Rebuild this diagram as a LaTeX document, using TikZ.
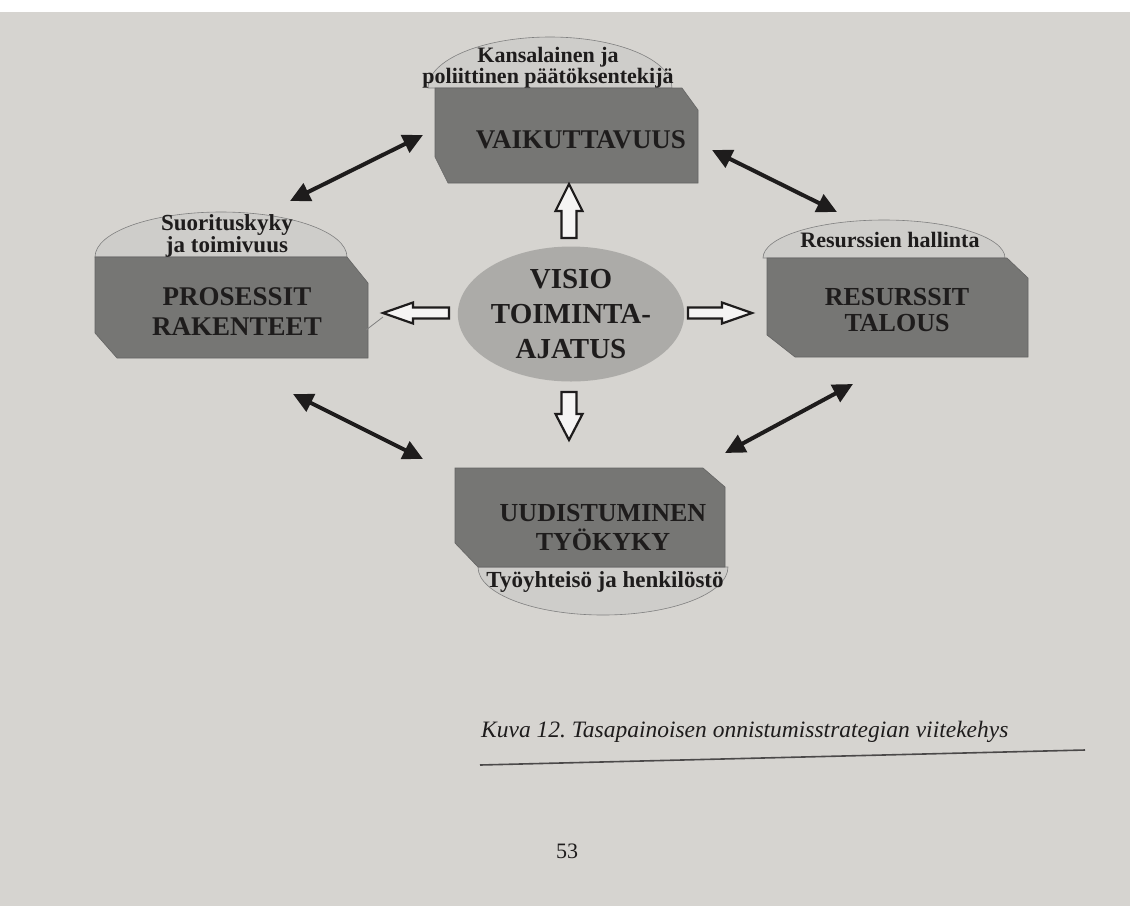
\documentclass[tikz,border=0pt]{standalone}
\usepackage{fontspec}
\setmainfont{Liberation Serif}
\usetikzlibrary{arrows.meta,shapes.geometric}
\definecolor{page}{RGB}{214,212,208}
\definecolor{boxgray}{RGB}{118,118,116}
\definecolor{capgray}{RGB}{206,205,202}
\definecolor{ovalgray}{RGB}{172,171,168}
\definecolor{ink}{RGB}{30,28,28}

\begin{document}
\begin{tikzpicture}[x=1pt,y=-1pt,>={Triangle[length=20pt,width=19pt]},
 box/.style={fill=boxgray,draw=boxgray!85!black,line width=0.6pt},
 lid/.style={fill=capgray,draw=gray,line width=0.6pt},
 lbl/.style={font=\fontsize{26}{29}\selectfont\bfseries,text=ink,align=center,inner sep=0pt},
 sub/.style={font=\fontsize{22}{21}\selectfont\bfseries,text=ink,align=center,inner sep=0pt},
 blk/.style={draw=ink,line width=2.2pt,fill=white!75!page,line join=miter},
 dbl/.style={<->,draw=ink,line width=4pt}]
\useasboundingbox (0,0) rectangle (1130,906);
\fill[page] (0,0) rectangle (1130,906);
\fill[white] (0,0) rectangle (1130,12);

% top: VAIKUTTAVUUS
\path[lid] (428,88) arc[start angle=180,end angle=0,x radius=122pt,y radius=51pt] -- cycle;
\path[box] (435,88) -- (682,88) -- (698,110) -- (698,183) -- (448,183) -- (435,157) -- cycle;
\node[lbl,font=\fontsize{27}{29}\selectfont\bfseries] (vai) at (581,140) {VAIKUTTAVUUS};
\node[sub] (vaisub) at (548,68) {Kansalainen ja\\poliittinen päätöksentekijä};

% left: PROSESSIT
\path[lid] (95,257) arc[start angle=180,end angle=0,x radius=126pt,y radius=45pt] -- cycle;
\path[box] (95,257) -- (347,257) -- (368,283) -- (368,358) -- (117,358) -- (95,333) -- cycle;
\node[lbl,font=\fontsize{27}{30}\selectfont\bfseries] (pro) at (237,312) {PROSESSIT\\RAKENTEET};
\node[sub,font=\fontsize{23}{22}\selectfont\bfseries] (prosub) at (227,236) {Suorituskyky\\ja toimivuus};

% right: RESURSSIT
\path[lid] (763,258) arc[start angle=180,end angle=0,x radius=121pt,y radius=38pt] -- cycle;
\path[box] (767,258) -- (1007,258) -- (1028,278) -- (1028,357) -- (795,357) -- (767,335) -- cycle;
\node[lbl,font=\fontsize{26}{26}\selectfont\bfseries] (res) at (897,310) {RESURSSIT\\TALOUS};
\node[sub] (ressub) at (890,240) {Resurssien hallinta};

% bottom: UUDISTUMINEN
\path[lid] (478,567) arc[start angle=180,end angle=360,x radius=125pt,y radius=48pt] -- cycle;
\path[box] (455,468) -- (703,468) -- (725,487) -- (725,567) -- (478,567) -- (455,543) -- cycle;
\node[lbl] (uud) at (603,528) {UUDISTUMINEN\\TYÖKYKY};
\node[sub,font=\fontsize{23}{22}\selectfont\bfseries] (uudsub) at (605,582) {Työyhteisö ja henkilöstö};

% centre
\node[ellipse,fill=ovalgray,minimum width=213pt,minimum height=135pt,inner sep=0pt,
 font=\fontsize{29}{35}\selectfont\bfseries,text=ink,align=center] (vis) at (571,314) {VISIO\\TOIMINTA-\\AJATUS};

% open arrows out of the centre
\path[blk] (569,184) -- (582.5,211) -- (576.5,211) -- (576.5,238) -- (561.5,238) -- (561.5,211) -- (555.5,211) -- cycle;
\path[blk] (561.5,392) -- (576.5,392) -- (576.5,414) -- (582.5,414) -- (569,440) -- (555.5,414) -- (561.5,414) -- cycle;
\path[blk] (383,313) -- (413,302.5) -- (413,307.5) -- (449,307.5) -- (449,318.5) -- (413,318.5) -- (413,323.5) -- cycle;
\path[blk] (688,307.5) -- (722,307.5) -- (722,302.5) -- (752,313) -- (722,323.5) -- (722,318.5) -- (688,318.5) -- cycle;
\coordinate (ltip) at (383,317); \coordinate (lfoot) at (366,330);
\draw[gray,line width=0.8pt] (ltip) -- (lfoot);

% double arrows between the boxes
\coordinate (tl1) at (290,201); \coordinate (tl2) at (423,135);
\coordinate (tr1) at (712,150); \coordinate (tr2) at (837,212);
\coordinate (bl1) at (293,394); \coordinate (bl2) at (423,459);
\coordinate (br1) at (725,453); \coordinate (br2) at (853,384);
\draw[dbl] (tl1) -- (tl2);
\draw[dbl] (tr1) -- (tr2);
\draw[dbl] (bl1) -- (bl2);
\draw[dbl] (br1) -- (br2);

% caption and page number
\node[anchor=base west,inner sep=0pt,text=ink,font=\fontsize{23.5}{28}\selectfont\itshape] (capt) at (481,737)
 {Kuva 12.\ Tasapainoisen onnistumisstrategian viitekehys};
\coordinate (rl) at (480,765); \coordinate (rr) at (1085,750);
\draw[ink!80,line width=1.6pt] (rl) -- (rr);
\node[inner sep=0pt,text=ink,font=\fontsize{22}{26}\selectfont] (pg) at (567,851) {53};
\end{tikzpicture}
\end{document}
